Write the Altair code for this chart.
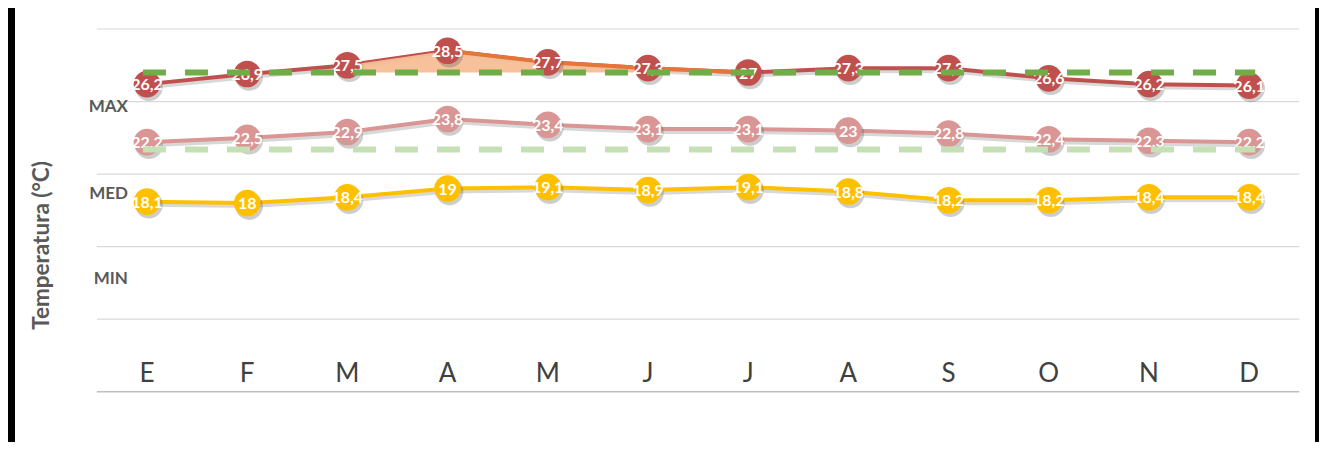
import altair as alt
import pandas as pd

# ---- data ----
months = ["E", "F", "M", "A", "M", "J", "J", "A", "S", "O", "N", "D"]
t_max = [26.2, 26.9, 27.5, 28.5, 27.7, 27.3, 27.0, 27.3, 27.3, 26.6, 26.2, 26.1]
t_med = [22.2, 22.5, 22.9, 23.8, 23.4, 23.1, 23.1, 23.0, 22.8, 22.4, 22.3, 22.2]
t_min = [18.1, 18.0, 18.4, 19.0, 19.1, 18.9, 19.1, 18.8, 18.2, 18.2, 18.4, 18.4]
ref_max = 27.0
ref_med = 21.7
ref_span = [-0.04, 11.06]
area_idx = [2, 3, 4, 5, 6]
area_line_idx = [3, 4, 5, 6]
band_labels = ["MAX", "MED", "MIN"]
band_label_y = [24.65, 18.63, 12.77]
grid_vals = [5, 10, 15, 20, 25, 30]
grid_colors = ["#bfbfbf", "#d9d9d9", "#d9d9d9", "#d9d9d9", "#d9d9d9", "#e4e4e4"]
axis_title = "Temperatura (°C)"

FONT = "Lato"
xs = alt.Scale(domain=[-1.317, 11.657], nice=False, zero=False)
ys = alt.Scale(domain=[1.537, 31.447], nice=False, zero=False)


def X(f):
    return alt.X(f, type="quantitative", scale=xs, axis=None)


def Y(f):
    return alt.Y(f, type="quantitative", scale=ys, axis=None)


def fmt(v):
    return f"{v:g}".replace(".", ",")


def series_df(vals):
    return pd.DataFrame({"i": list(range(len(vals))), "v": vals,
                         "lab": [fmt(v) for v in vals]})


grid_df = pd.DataFrame({"v": grid_vals, "x0": -0.5, "x1": 11.5, "c": grid_colors})
grid = alt.Chart(grid_df).mark_rule(strokeWidth=1.3).encode(
    x=X("x0"), x2="x1", y=Y("v"), color=alt.Color("c:N", scale=None))


def series_layers(vals, color):
    d = series_df(vals)
    base = alt.Chart(d)
    shadow_line = base.mark_line(color="#7f7f7f", opacity=0.3, strokeWidth=4,
                                 xOffset=2, yOffset=3).encode(x=X("i"), y=Y("v"))
    line = base.mark_line(color=color, strokeWidth=4).encode(x=X("i"), y=Y("v"))
    return shadow_line, line


def marker_layers(vals, color):
    d = series_df(vals)
    base = alt.Chart(d)
    shadow = base.mark_circle(size=760, color="#5a5a5a", opacity=0.3,
                              xOffset=2, yOffset=3).encode(x=X("i"), y=Y("v"))
    dots = base.mark_circle(size=710, color=color, opacity=1).encode(x=X("i"), y=Y("v"))
    labels = base.mark_text(font=FONT, fontSize=16, fontWeight="bold", color="white",
                            align="center", baseline="middle", dy=1).encode(
        x=X("i"), y=Y("v"), text="lab:N")
    return [shadow, dots, labels]


C_MAX = "#C0504D"
C_MED = "#D99694"
C_MIN = "#FFC000"

sl_max, l_max = series_layers(t_max, C_MAX)
sl_med, l_med = series_layers(t_med, C_MED)
sl_min, l_min = series_layers(t_min, C_MIN)

area_df = pd.DataFrame({"i": area_idx, "top": [t_max[k] for k in area_idx], "base": ref_max})
area = alt.Chart(area_df).mark_area(color="#F5BE96", opacity=0.95).encode(
    x=X("i"), y=Y("top"), y2="base")
aline_df = pd.DataFrame({"i": area_line_idx, "v": [t_max[k] for k in area_line_idx]})
aline = alt.Chart(aline_df).mark_line(color="#E5763A", strokeWidth=4).encode(x=X("i"), y=Y("v"))

ref_df = pd.DataFrame({"v": [ref_max, ref_med], "x0": ref_span[0], "x1": ref_span[1],
                       "c": ["#70AD47", "#C5E0B4"]})
refs = alt.Chart(ref_df).mark_rule(strokeWidth=6, strokeDash=[23, 19]).encode(
    x=X("x0"), x2="x1", y=Y("v"), color=alt.Color("c:N", scale=None))

month_df = pd.DataFrame({"i": list(range(12)), "m": months, "v": 6.2})
month_txt = alt.Chart(month_df).mark_text(font=FONT, fontSize=26, color="#404040",
                                          align="center", baseline="middle").encode(
    x=X("i"), y=Y("v"), text="m:N")

band_df = pd.DataFrame({"t": band_labels, "v": band_label_y, "i": -0.19})
band_txt = alt.Chart(band_df).mark_text(font=FONT, fontSize=17, fontWeight="bold",
                                        color="#595959", align="right", baseline="middle").encode(
    x=X("i"), y=Y("v"), text="t:N")

title_df = pd.DataFrame({"t": [axis_title], "i": [-1.045], "v": [15.08]})
title_txt = alt.Chart(title_df).mark_text(font=FONT, fontSize=22.5, fontWeight="bold",
                                          color="#595959", angle=270, align="center",
                                          baseline="middle").encode(
    x=X("i"), y=Y("v"), text="t:N")

layers = [grid, sl_max, sl_med, sl_min, l_min, l_med, l_max, area, aline]
layers += marker_layers(t_min, C_MIN)
layers += marker_layers(t_med, C_MED)
layers += marker_layers(t_max, C_MAX)
layers += [refs, month_txt, band_txt, title_txt]

chart = alt.layer(*layers).properties(
    width=1300, height=434,
    padding={"left": 7, "top": 0, "right": 4, "bottom": 0},
    autosize=alt.AutoSizeParams(type="none"),
    background="black",
).configure_view(fill="white", strokeWidth=0)

chart.save("out.html", embed_options={"renderer": "svg", "actions": False})
